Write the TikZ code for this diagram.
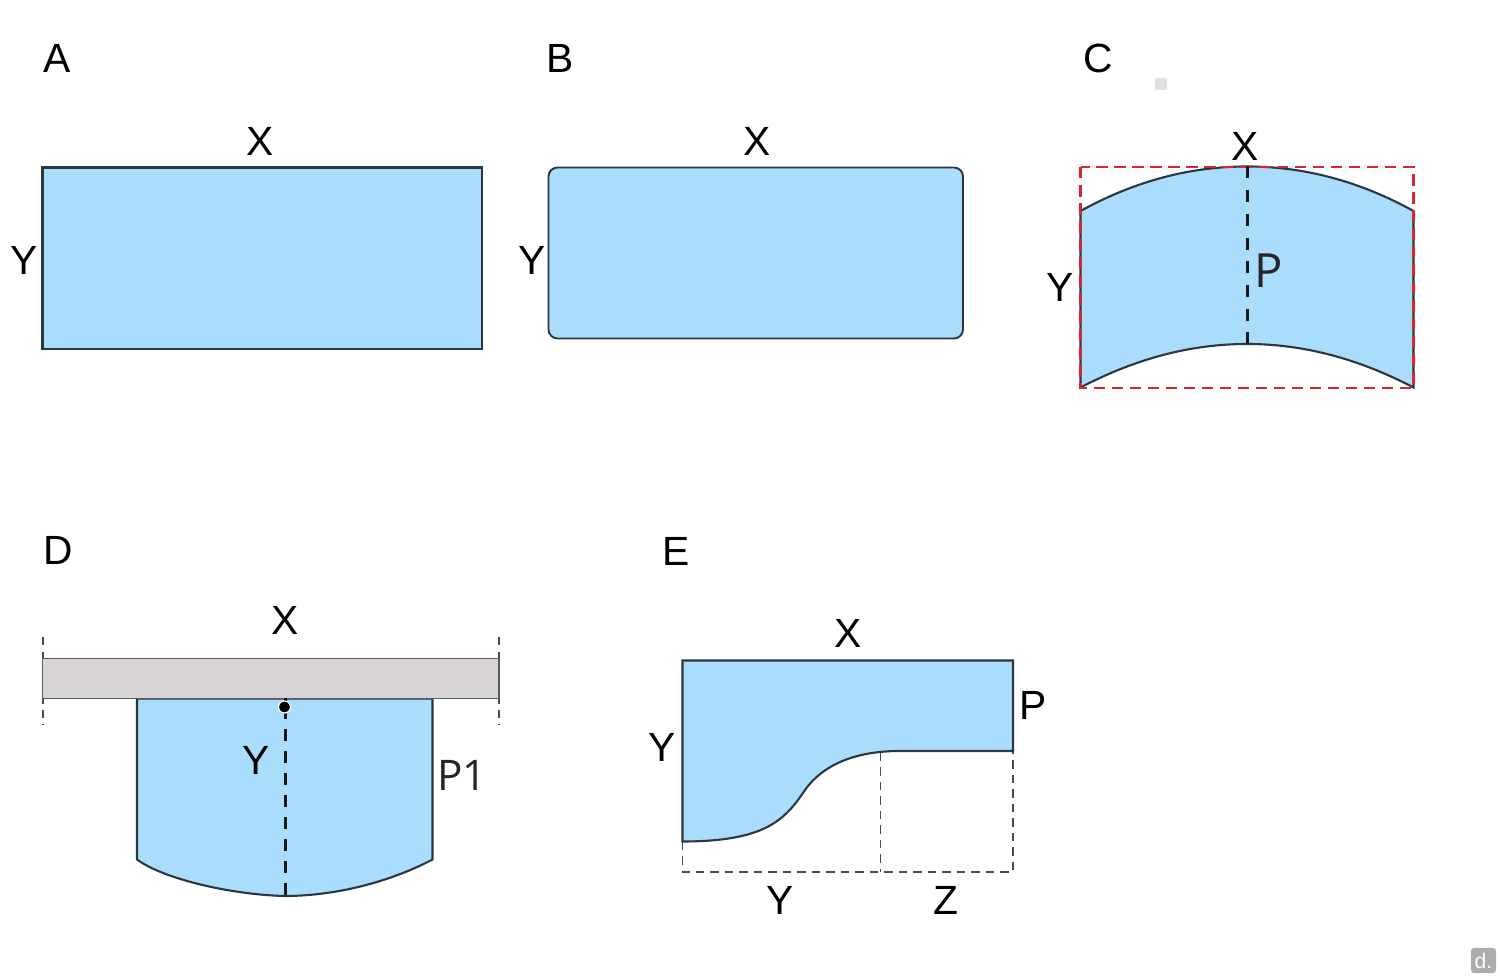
\documentclass[tikz,border=0pt]{standalone}
\usepackage{fontspec}
\setmainfont{Liberation Sans}
\newfontfamily\thinfont{Open Sans}
\usepackage{tikz}
\definecolor{panelblue}{HTML}{A9DDFB}
\definecolor{edgedark}{HTML}{2C3640}
\definecolor{bargrey}{HTML}{D8D4D6}
\definecolor{boxred}{HTML}{D9252F}
\tikzset{
    panel/.style={fill=panelblue, draw=edgedark, line width=0.21mm},
    bar/.style={fill=bargrey, draw=edgedark!80, line width=0.17mm},
    lbl/.style={inner sep=0pt, font=\fontsize{11.6}{14}\selectfont},
    plbl/.style={inner sep=0pt, text=black!85, font=\thinfont\fontsize{12}{14}\selectfont},
    centerline/.style={draw=black!90, line width=0.3mm, dash pattern=on 1.2mm off 1.17mm},
    guide/.style={draw=black!70, line width=0.12mm, dash pattern=on 0.85mm off 0.6mm},
    redbox/.style={draw=boxred, line width=0.27mm, dash pattern=on 1.15mm off 0.65mm}
}

\begin{document}
\begin{tikzpicture}[line cap=butt, line join=miter, x=0.01cm, y=-0.01cm]
    \useasboundingbox (0, 0) rectangle (1500, 977);

    % Panel A
    \node[lbl] (lblA) at (57, 58) {A};
    \draw[panel] (42.5, 167.5) rectangle (482, 349);
    \node[lbl] (xA) at (260.5, 141) {X};
    \node[lbl] (yA) at (24.5, 260) {Y};

    % Panel B
    \node[lbl] (lblB) at (560, 58) {B};
    \draw[panel, line width=0.19mm, rounded corners=0.09cm] (548.5, 167.5) rectangle (963, 338.5);
    \node[lbl] (xB) at (757, 141) {X};
    \node[lbl] (yB) at (532, 260) {Y};

    % Panel C
    \node[lbl] (lblC) at (1098, 58) {C};
    \fill[black!12, rounded corners=0.01cm] (1155, 78) rectangle (1167, 90);
    \coordinate (cTop) at (1247, 166.5);
    \coordinate (cBot) at (1247, 344);
    \draw[panel] (1080.5, 211) .. controls (1135, 181) and (1190, 166.5) .. (cTop)
        .. controls (1304, 166.5) and (1359, 181) .. (1413.5, 211)
        -- (1413.5, 387.5) .. controls (1359, 359) and (1304, 344) .. (cBot)
        .. controls (1190, 344) and (1135, 359) .. (1080.5, 387.5) -- cycle;
    \draw[redbox] (1080.5, 167) rectangle (1413.5, 388);
    \draw[centerline] (cTop) -- (cBot);
    \node[lbl] (xC) at (1245, 146) {X};
    \node[lbl] (yC) at (1060, 287) {Y};
    \node[plbl, font=\thinfont\fontsize{13.4}{15}\selectfont] (pC) at (1269, 271) {P};

    % Panel D
    \node[lbl] (lblD) at (58, 550) {D};
    \coordinate (dTickLa) at (43, 637);
    \coordinate (dTickLb) at (43, 725);
    \coordinate (dTickRa) at (499, 637);
    \coordinate (dTickRb) at (499, 725);
    \draw[guide] (dTickLa) -- (dTickLb);
    \draw[guide] (dTickRa) -- (dTickRb);
    \coordinate (dTop) at (285, 698.5);
    \coordinate (dBot) at (285, 896);
    \draw[panel] (137, 698.5) -- (432.5, 698.5) -- (432.5, 859.5)
        .. controls (390, 882) and (335, 896) .. (dBot)
        .. controls (235, 895) and (165, 880) .. (137, 859.5) -- cycle;
    \draw[bar] (42.5, 658.5) rectangle (499, 698.5);
    \draw[centerline, dash pattern=on 1.2mm off 1.0mm, dash phase=1.34mm] (dTop) -- (dBot);
    \draw[black, line width=0.3mm] (dTop) -- (285, 704);
    \node[circle, fill=black, draw=white, line width=0.12mm, minimum size=0.12cm, inner sep=0pt] (dDot) at (284.5, 707) {};
    \node[lbl] (xD) at (285, 620) {X};
    \node[lbl] (yD) at (256, 760) {Y};
    \node[plbl] (pD) at (462, 775) {P1};

    % Panel E
    \node[lbl] (lblE) at (676, 551) {E};
    \coordinate (eLeft) at (682.5, 841.5);
    \coordinate (eMid) at (880.5, 752.5);
    \coordinate (eRight) at (1013, 751);
    \coordinate (eBotL) at (682.5, 872);
    \coordinate (eBotM) at (880.5, 872);
    \coordinate (eBotR) at (1013, 872);
    \draw[guide] (eLeft) -- (eBotL) -- (eBotR) -- (eRight);
    \draw[guide] (eMid) -- (eBotM);
    \draw[panel] (682.5, 660.5) -- (1013, 660.5) -- (eRight) -- (900, 751)
        .. controls (860, 751) and (825, 762) .. (805, 790)
        .. controls (785, 820) and (765, 841.5) .. (eLeft) -- cycle;
    \node[lbl] (xE) at (848, 633) {X};
    \node[lbl] (yE) at (662, 747) {Y};
    \node[lbl] (pE) at (1033, 705) {P};
    \node[lbl] (yEb) at (780, 900) {Y};
    \node[lbl] (zE) at (946, 900) {Z};

    % Corner mark
    \node[fill=black!32, rounded corners=0.03cm, minimum size=0.25cm, inner sep=0pt, text=white, font=\fontsize{6}{7}\selectfont] (mark) at (1483.5, 960.5) {d.};
\end{tikzpicture}
\end{document}
